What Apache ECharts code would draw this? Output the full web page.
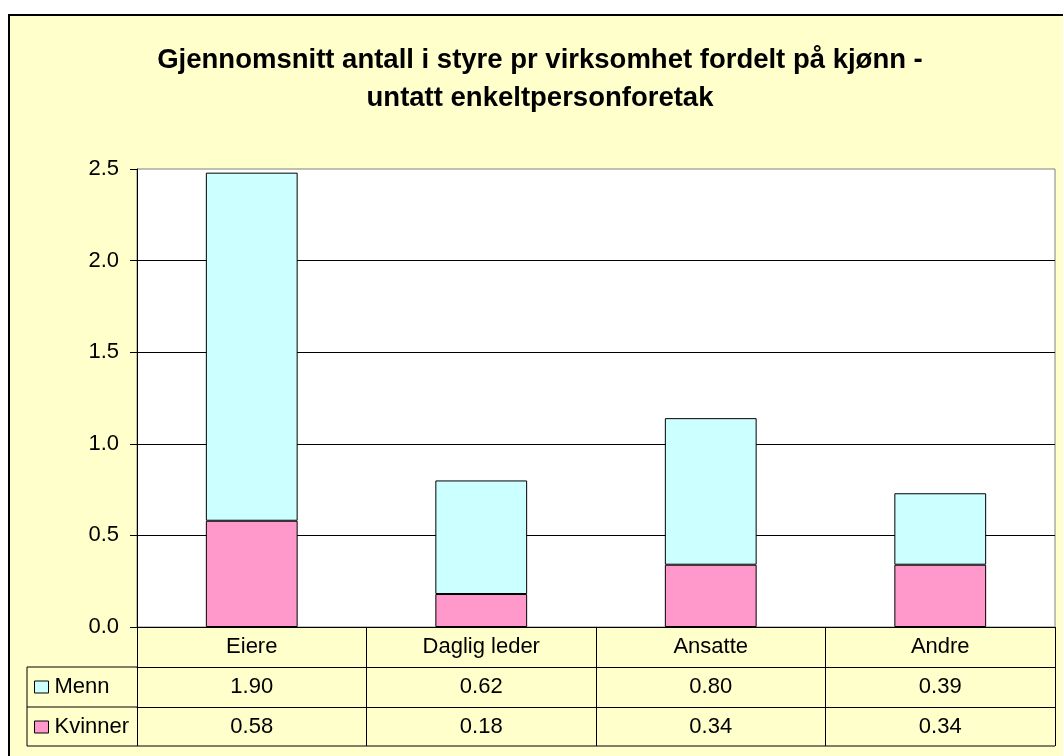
<!DOCTYPE html>
<html>
<head>
<meta charset="utf-8">
<script src="https://cdn.jsdelivr.net/npm/echarts@6/dist/echarts.min.js"></script>
<style>
  html, body { margin: 0; padding: 0; background: #fff; }
  #frame {
    position: absolute; left: 8px; top: 14px; width: 1100px; height: 800px;
    background: #FFFFCC; border-left: 2px solid #000; border-top: 2px solid #000;
    box-sizing: border-box;
  }
  #chart { position: absolute; left: 0; top: 0; width: 1063px; height: 756px; }
</style>
</head>
<body>
<div id="frame"></div>
<div id="chart"></div>
<script>
// data
const categories = ['Eiere', 'Daglig leder', 'Ansatte', 'Andre'];
const menn = [1.90, 0.62, 0.80, 0.39];
const kvinner = [0.58, 0.18, 0.34, 0.34];
const yTicks = [0, 0.5, 1.0, 1.5, 2.0, 2.5];

const FONT = "'Liberation Sans', Arial, sans-serif";
const fmt = v => v.toFixed(2);

// table layout (data table under the plot)
const plotLeft = 137, plotRight = 1055, axisY = 627;
const rowH = 40, tableLeft = 27;
const tableBottom = axisY + 3 * rowH - 1;
const LABEL = 22;

const chart = echarts.init(document.getElementById('chart'));

const option = {
  backgroundColor: 'transparent',
  animation: false,
  textStyle: { fontFamily: FONT },
  title: {
    text: 'Gjennomsnitt antall i styre pr virksomhet fordelt på kjønn -\nuntatt enkeltpersonforetak',
    left: 535,
    textAlign: 'center',
    top: 36,
    textStyle: { fontFamily: FONT, fontSize: 27.5, fontWeight: 'bold', color: '#000', lineHeight: 38 }
  },
  legend: {
    data: ['Menn', 'Kvinner'],
    orient: 'vertical',
    left: 34,
    top: axisY + rowH + 8,
    padding: 0,
    itemWidth: 14,
    itemHeight: 12,
    itemGap: 16,
    icon: 'rect',
    itemStyle: { borderColor: '#000', borderWidth: 1 },
    textStyle: { fontFamily: FONT, fontSize: LABEL, color: '#000', lineHeight: 24, padding: [0, 0, 0, 1] }
  },
  grid: {
    left: plotLeft, right: 1063 - plotRight, top: 169, bottom: 756 - axisY,
    show: true, backgroundColor: '#fff', borderColor: '#808080', borderWidth: 1
  },
  xAxis: [
    {
      type: 'category',
      data: categories,
      position: 'bottom',
      axisLine: { lineStyle: { color: '#000', width: 1 } },
      axisTick: { show: true, interval: 0, length: 3 * rowH - 1, lineStyle: { color: '#000' } },
      axisLabel: { interval: 0, margin: 9, fontSize: LABEL, color: '#000', fontFamily: FONT }
    },
    {
      type: 'category',
      data: menn.map(fmt),
      position: 'bottom',
      offset: rowH,
      axisLine: { lineStyle: { color: '#000', width: 1 } },
      axisTick: { show: false },
      axisLabel: { interval: 0, margin: 9, fontSize: LABEL, color: '#000', fontFamily: FONT }
    },
    {
      type: 'category',
      data: kvinner.map(fmt),
      position: 'bottom',
      offset: 2 * rowH,
      axisLine: { lineStyle: { color: '#000', width: 1 } },
      axisTick: { show: false },
      axisLabel: { interval: 0, margin: 9, fontSize: LABEL, color: '#000', fontFamily: FONT }
    }
  ],
  yAxis: {
    type: 'value',
    min: yTicks[0],
    max: yTicks[yTicks.length - 1],
    interval: 0.5,
    axisLine: { show: true, lineStyle: { color: '#000' } },
    axisTick: { show: true, length: 7, lineStyle: { color: '#000' } },
    axisLabel: { fontSize: LABEL, color: '#000', margin: 18, fontFamily: FONT, formatter: v => v.toFixed(1) },
    splitLine: { show: true, showMaxLine: false, lineStyle: { color: '#000', width: 1 } }
  },
  series: [
    {
      name: 'Kvinner',
      type: 'bar',
      stack: 'total',
      barWidth: '40%',
      data: kvinner,
      itemStyle: { color: '#FF99CC', borderColor: '#000', borderWidth: 1 }
    },
    {
      name: 'Menn',
      type: 'bar',
      stack: 'total',
      barWidth: '40%',
      data: menn,
      itemStyle: { color: '#CCFFFF', borderColor: '#000', borderWidth: 1 }
    }
  ],
  graphic: [
    // legend column of the data table
    { type: 'line', shape: { x1: tableLeft, y1: axisY + rowH, x2: plotLeft, y2: axisY + rowH }, style: { stroke: '#000', lineWidth: 1 } },
    { type: 'line', shape: { x1: tableLeft, y1: axisY + 2 * rowH, x2: plotLeft, y2: axisY + 2 * rowH }, style: { stroke: '#000', lineWidth: 1 } },
    { type: 'line', shape: { x1: tableLeft, y1: tableBottom, x2: plotRight, y2: tableBottom }, style: { stroke: '#000', lineWidth: 1 } },
    { type: 'line', shape: { x1: tableLeft, y1: axisY + rowH, x2: tableLeft, y2: tableBottom }, style: { stroke: '#000', lineWidth: 1 } }
  ]
};

chart.setOption(option);
</script>
</body>
</html>
